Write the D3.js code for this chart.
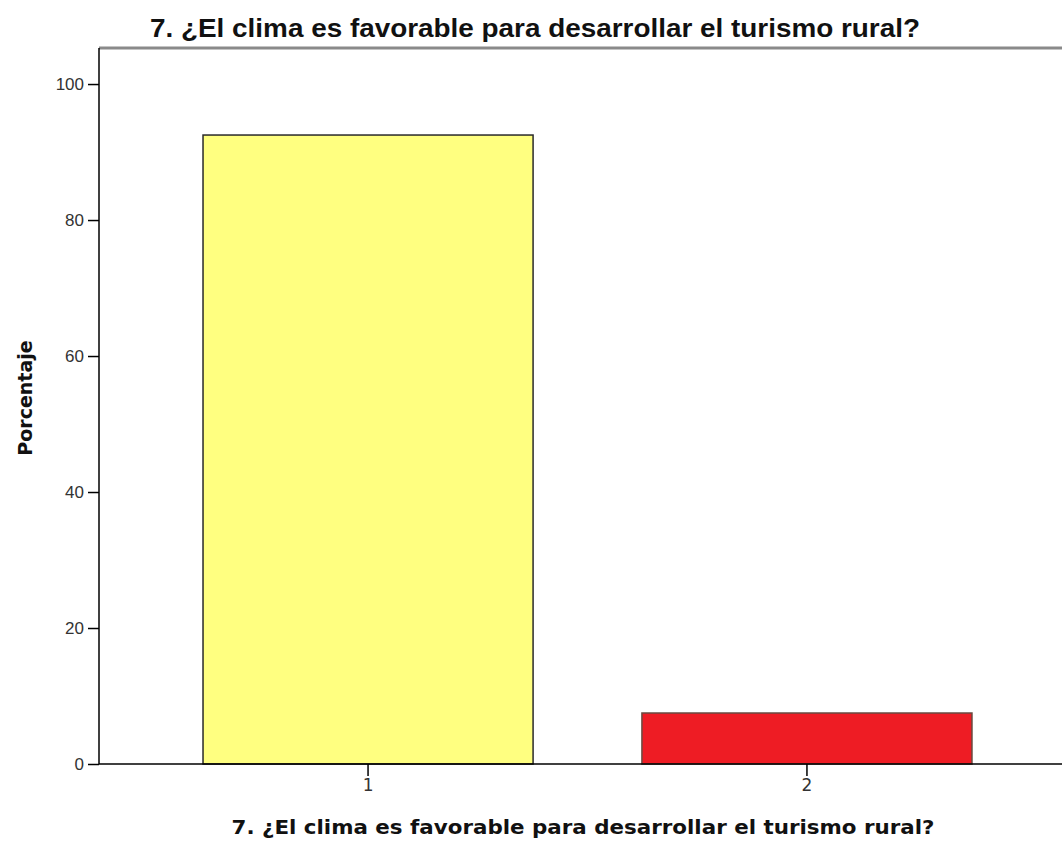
<!DOCTYPE html>
<html><head><meta charset="utf-8">
<script src="https://cdn.jsdelivr.net/npm/d3@7"></script>
<style>body{margin:0;background:#fff}</style>
</head><body>
<svg id="c" width="1062" height="845"></svg>
<script>
const categories = ["1", "2"];
const percentages = [92.5, 7.5];
const barColors = ["#ffff80", "#ee1c24"];
const yTicks = [0, 20, 40, 60, 80, 100];
const titleText = "7. ¿El clima es favorable para desarrollar el turismo rural?";
const xTitle = "7. ¿El clima es favorable para desarrollar el turismo rural?";
const yTitle = "Porcentaje";

(function () {
const svg = d3.select("#c");
const pLeft = 99, pRight = 1076, pTop = 48, pBottom = 764;

const x = d3.scaleBand().domain(categories).range([pLeft, pRight])
  .paddingInner(0.248).paddingOuter(0.237);
const y = d3.scaleLinear().domain([0, 105.3]).range([pBottom, pTop]);

// top frame line
svg.append("line").attr("x1", pLeft).attr("x2", 1062).attr("y1", pTop).attr("y2", pTop)
  .attr("stroke", "#8a8a8a").attr("stroke-width", 3);

// bars
svg.selectAll("rect.bar").data(categories).enter().append("rect")
  .attr("class", "bar")
  .attr("x", d => x(d))
  .attr("width", x.bandwidth())
  .attr("y", (d, i) => y(percentages[i]))
  .attr("height", (d, i) => pBottom - y(percentages[i]))
  .attr("fill", (d, i) => barColors[i])
  .attr("stroke", (d, i) => i === 0 ? "#2a2a2a" : "#6a4a40")
  .attr("stroke-width", 1.5);

// y axis
const yAxis = d3.axisLeft(y).tickValues(yTicks).tickSize(11).tickPadding(4).tickFormat(d3.format("d"));
const gy = svg.append("g").attr("transform", `translate(${pLeft},0)`).call(yAxis)
  .attr("font-size", 17).attr("font-family", "'Liberation Sans', Arial, sans-serif");
gy.select(".domain").remove();
gy.append("line").attr("x1", 0).attr("x2", 0).attr("y1", pTop).attr("y2", pBottom)
  .attr("stroke", "#000").attr("stroke-width", 1.5);
gy.selectAll(".tick line").attr("stroke", "#000").attr("stroke-width", 1.5);
gy.selectAll(".tick text").attr("fill", "#333");

// x axis
const xAxis = d3.axisBottom(x).tickSize(12).tickPadding(3);
const gx = svg.append("g").attr("transform", `translate(0,${pBottom})`).call(xAxis)
  .attr("font-size", 17).attr("font-family", "'DejaVu Sans', sans-serif");
gx.select(".domain").remove();
gx.append("line").attr("x1", pLeft).attr("x2", 1062).attr("y1", 0).attr("y2", 0)
  .attr("stroke", "#000").attr("stroke-width", 1.5);
gx.selectAll(".tick line").attr("stroke", "#000").attr("stroke-width", 1.5);
gx.selectAll(".tick text").attr("fill", "#333");

// title
svg.append("text").attr("x", 535).attr("y", 37).attr("text-anchor", "middle")
  .attr("font-family", "'Liberation Sans', Arial, sans-serif").attr("font-weight", "bold")
  .attr("font-size", 25).attr("textLength", 770).attr("lengthAdjust", "spacingAndGlyphs")
  .attr("fill", "#111").text(titleText);

// x title
svg.append("text").attr("x", 583).attr("y", 834).attr("text-anchor", "middle")
  .attr("font-family", "'DejaVu Sans', sans-serif").attr("font-weight", "bold")
  .attr("font-size", 19).attr("textLength", 703).attr("lengthAdjust", "spacingAndGlyphs")
  .attr("fill", "#111").text(xTitle);

// y title
svg.append("text").attr("transform", "translate(32,398) rotate(-90)").attr("text-anchor", "middle")
  .attr("font-family", "'DejaVu Sans', sans-serif").attr("font-weight", "bold")
  .attr("font-size", 19).attr("fill", "#111").text(yTitle);
})();
</script>
</body></html>
